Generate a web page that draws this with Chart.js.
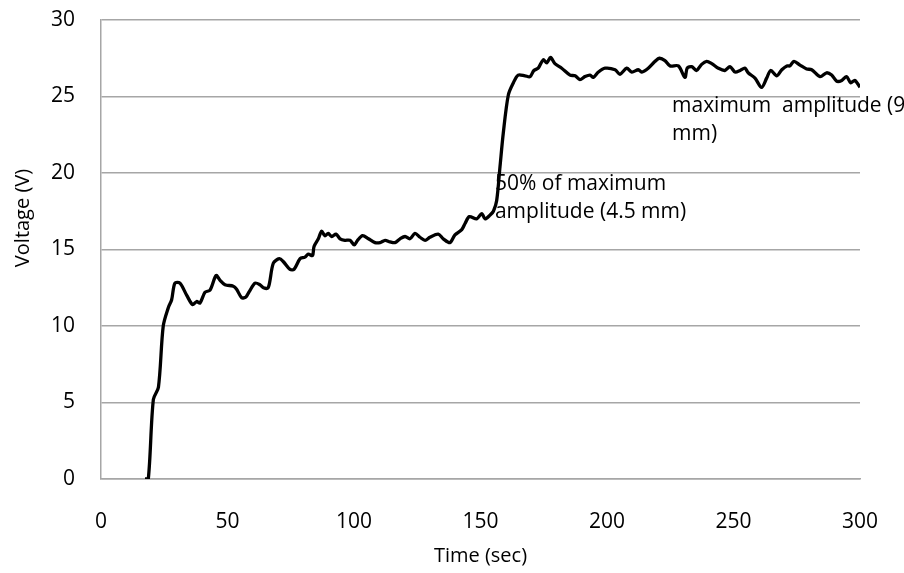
<!DOCTYPE html>
<html>
<head>
<meta charset="utf-8">
<script src="https://cdn.jsdelivr.net/npm/chart.js@4"></script>
<style>
  body { margin: 0; background: #fff; }
  #wrap { width: 904px; height: 573px; }
</style>
</head>
<body>
<div id="wrap"><canvas id="myChart" width="904" height="573"></canvas></div>
<script>
// DATA
const TimeSec = [17.4, 18.7, 20.7, 22.7, 24.6, 26.6, 27.9, 29.2, 31.2, 33.9,
  36.2, 37.8, 39.1, 41.1, 43.1, 45.5, 47, 49, 52.3, 53.6,
  55.6, 57.3, 58.6, 60.9, 62.8, 64.2, 66.1, 68.1, 70.5, 72.1,
  74.7, 76.3, 78.7, 80.6, 81.9, 83.6, 84.2, 85.9, 87.2, 88.5,
  89.8, 91.2, 92.9, 94.5, 96.4, 98.4, 100.1, 101.4, 103.4, 105.7,
  108.3, 110.3, 112.3, 114.2, 116.2, 118.2, 120.2, 122.1, 124.1, 126.1,
  128.1, 130, 133.3, 135.3, 137.9, 139.9, 142.6, 143.9, 145.6, 148.5,
  150.5, 151.8, 153.8, 155.1, 156.4, 157.7, 159, 161, 163, 164.9,
  167.6, 169.6, 171.1, 172.8, 174.8, 176.2, 177.7, 179.4, 182.1, 185.4,
  187.4, 189.3, 191.3, 193.3, 194.6, 196.6, 199.2, 203.2, 205.1, 207.8,
  209.8, 212.4, 213.7, 216.3, 219, 220.7, 222.9, 224.9, 228.2, 230.8,
  231.7, 233.5, 235.4, 237.4, 239.4, 241.4, 244, 246.6, 248.6, 250.6,
  252.6, 254.5, 255.8, 258.5, 261.1, 263.1, 264.7, 267.1, 269.1, 271.1,
  272.3, 273.9, 276.3, 278.9, 280.9, 284.2, 286.8, 288.8, 290.8, 292.8,
  294.7, 296.3, 298, 300]

const Voltage = [0, 0, 5.2, 6.0, 10.0, 11.2, 11.7, 12.8, 12.8, 12.0,
  11.4, 11.6, 11.5, 12.2, 12.35, 13.3, 13.0, 12.7, 12.6, 12.4,
  11.85, 11.9, 12.25, 12.8, 12.7, 12.5, 12.5, 14.1, 14.4, 14.2,
  13.7, 13.7, 14.4, 14.5, 14.7, 14.6, 15.2, 15.7, 16.2, 15.9,
  16.05, 15.85, 16.0, 15.7, 15.6, 15.6, 15.3, 15.6, 15.9, 15.7,
  15.45, 15.45, 15.6, 15.5, 15.45, 15.7, 15.85, 15.7, 16.05, 15.8,
  15.6, 15.8, 16.0, 15.7, 15.45, 15.95, 16.3, 16.7, 17.15, 17.0,
  17.35, 17.0, 17.25, 17.5, 18.2, 20.4, 22.6, 25.1, 25.9, 26.4,
  26.35, 26.3, 26.7, 26.85, 27.4, 27.2, 27.55, 27.15, 26.85, 26.4,
  26.35, 26.1, 26.3, 26.4, 26.25, 26.6, 26.85, 26.75, 26.45, 26.85,
  26.6, 26.75, 26.6, 26.85, 27.3, 27.5, 27.35, 27.0, 27.0, 26.25,
  26.85, 26.95, 26.7, 27.1, 27.3, 27.15, 26.85, 26.7, 26.95, 26.6,
  26.7, 26.85, 26.55, 26.2, 25.6, 26.2, 26.7, 26.35, 26.75, 27.0,
  27.0, 27.3, 27.05, 26.8, 26.75, 26.3, 26.55, 26.4, 26.0, 26.05,
  26.3, 25.9, 26.05, 25.6]

// annotation text, anchored at [time, voltage] of its first line
const NoteLines = [
  ['50% of maximum', 'amplitude (4.5 mm)'],
  ['maximum  amplitude (9', 'mm)']
]
const NoteAnchors = [[155.7, 19.3], [225.7, 24.4]]

const FONT = "'Open Sans', 'DejaVu Sans', sans-serif"
const GRID = '#a6a6a6'

// DRAW TEXT NOT HANDLED BY THE AXES
const textPlugin = {
  id: 'textPlugin',
  afterDraw(chart) {
    const ctx = chart.ctx
    const xs = chart.scales.x
    const ys = chart.scales.y
    ctx.save()
    ctx.fillStyle = '#000'
    ctx.font = '21px ' + FONT
    ctx.textBaseline = 'middle'
    ctx.textAlign = 'left'
    NoteLines.forEach((lines, i) => {
      const px = xs.getPixelForValue(NoteAnchors[i][0])
      const py = ys.getPixelForValue(NoteAnchors[i][1])
      lines.forEach((t, j) => ctx.fillText(t, px, py + j * 28))
    })
    // y axis title
    ctx.translate(23, 218)
    ctx.rotate(-Math.PI / 2)
    ctx.textAlign = 'center'
    ctx.font = '20px ' + FONT
    ctx.fillText('Voltage (V)', 0, 0)
    ctx.restore()
  }
}

const ctx = document.getElementById('myChart')
new Chart(ctx, {
  type: 'line',
  data: {
    datasets: [{
      label: 'Voltage',
      data: TimeSec.map((t, i) => ({x: t, y: Voltage[i]})),
      borderColor: '#000',
      borderWidth: 3.3,
      pointRadius: 0,
      fill: false,
      tension: 0.3
    }]
  },
  options: {
    responsive: false,
    animation: false,
    layout: { padding: { top: 20, right: 44, left: 0, bottom: 0 } },
    plugins: {
      legend: { display: false },
      tooltip: { enabled: false }
    },
    scales: {
      x: {
        type: 'linear',
        min: 0,
        max: 300,
        afterFit: s => { s.height = 94; s.paddingLeft = 0; s.paddingRight = 0 },
        grid: { display: false, drawTicks: false },
        border: { display: true, color: GRID, width: 1.5 },
        ticks: { stepSize: 50, padding: 30, color: '#000', font: { family: FONT, size: 21 } },
        title: { display: true, text: 'Time (sec)', color: '#000', font: { family: FONT, size: 20 }, padding: { top: 0, bottom: 5 } }
      },
      y: {
        min: 0,
        max: 30,
        // fixed width; drop the label overflow padding so the plot starts where the picture does
        afterFit: s => { s.width = 101; s.paddingTop = 0 },
        grid: { color: GRID, lineWidth: 1.5, drawTicks: false },
        border: { display: true, color: GRID, width: 1.5 },
        ticks: { stepSize: 5, padding: 26, color: '#000', font: { family: FONT, size: 21 } }
      }
    }
  },
  plugins: [textPlugin]
})
</script>
</body>
</html>
